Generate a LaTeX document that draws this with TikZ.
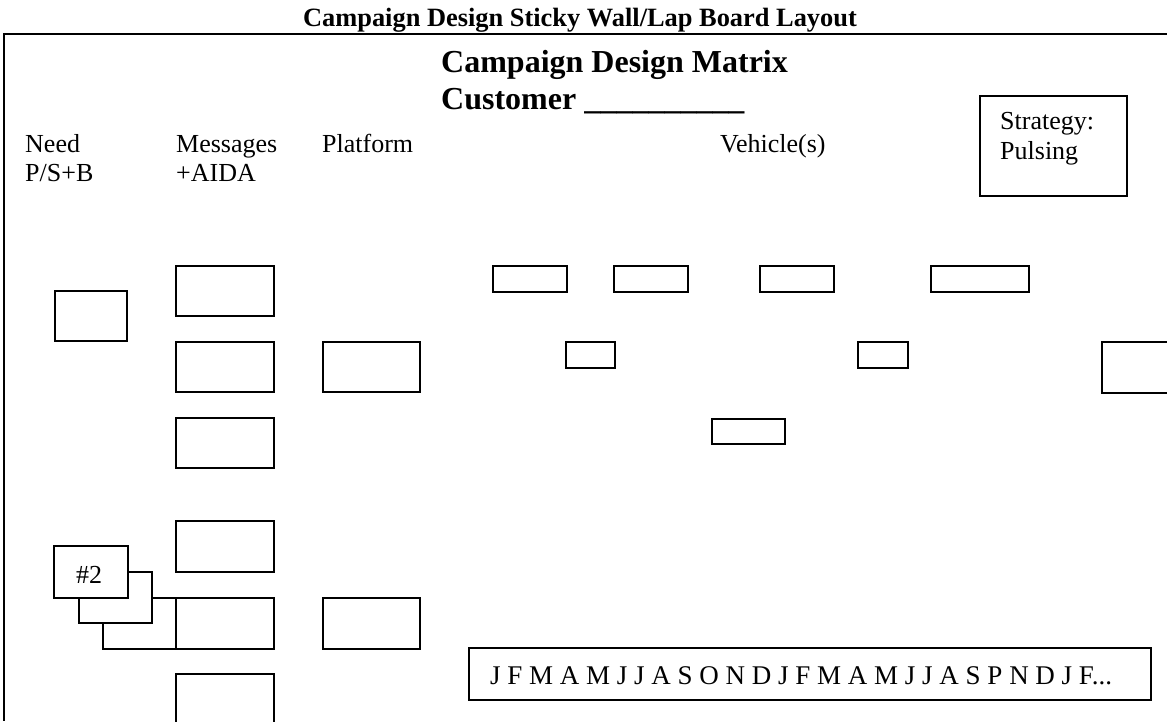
\documentclass[tikz,border=0pt]{standalone}
\usepackage{fontspec}
\setmainfont{Liberation Serif}
\begin{document}
\begin{tikzpicture}[x=1pt,y=-1pt,
  frame/.style={line width=1.8pt},
  box/.style={draw, line width=1.5pt, fill=white, inner sep=0pt, anchor=north west},
  lbl/.style={inner sep=0pt, anchor=base west, font=\fontsize{26}{30}\selectfont},
  ttl/.style={inner sep=0pt, anchor=base, font=\fontsize{26.4}{30}\selectfont\bfseries},
  big/.style={inner sep=0pt, anchor=base west, font=\fontsize{32}{36}\selectfont\bfseries}]
\useasboundingbox (0,0) rectangle (1167,721);
\clip (0,0) rectangle (1167,721);
% frame
\coordinate (tl) at (3,34);
\coordinate (tr) at (1167,34);
\coordinate (bl) at (4,721);
\draw[frame] (tl) -- (tr);
\draw[frame] (4,34) -- (bl);
% titles
\node[ttl] (title) at (580,26) {Campaign Design Sticky Wall/Lap Board Layout};
\node[big] (matrix) at (441,72) {Campaign Design Matrix};
\node[big] (cust) at (441,109) {Customer \_\_\_\_\_\_\_\_\_\_};
% column headings
\node[lbl] (need) at (25,152) {Need};
\node[lbl] (ps) at (25,181) {P/S+B};
\node[lbl] (msg) at (176,152) {Messages};
\node[lbl] (aida) at (176,181) {+AIDA};
\node[lbl] (plat) at (322,152) {Platform};
\node[lbl] (veh) at (720,152) {Vehicle(s)};
% strategy
\node[box, minimum width=147pt, minimum height=100pt] (strat) at (979,95) {};
\node[lbl] (strat1) at (1000,129) {Strategy:};
\node[lbl] (strat2) at (1000,159) {Pulsing};
% need box
\node[box, minimum width=72pt, minimum height=50pt] (n1) at (54,290) {};
% message boxes
\node[box, minimum width=98pt, minimum height=50pt] (m1) at (175,265) {};
\node[box, minimum width=98pt, minimum height=50pt] (m2) at (175,341) {};
\node[box, minimum width=98pt, minimum height=50pt] (m3) at (175,417) {};
\node[box, minimum width=98pt, minimum height=51pt] (m4) at (175,520) {};
\node[box, minimum width=98pt, minimum height=51pt] (m5) at (175,597) {};
\node[box, minimum width=98pt, minimum height=60pt] (m6) at (175,673) {};
% platform boxes
\node[box, minimum width=97pt, minimum height=50pt] (p1) at (322,341) {};
\node[box, minimum width=97pt, minimum height=51pt] (p2) at (322,597) {};
% vehicle boxes
\node[box, minimum width=74pt, minimum height=26pt] (v1) at (492,265) {};
\node[box, minimum width=74pt, minimum height=26pt] (v2) at (613,265) {};
\node[box, minimum width=74pt, minimum height=26pt] (v3) at (759,265) {};
\node[box, minimum width=98pt, minimum height=26pt] (v4) at (930,265) {};
\node[box, minimum width=49pt, minimum height=26pt] (v5) at (565,341) {};
\node[box, minimum width=50pt, minimum height=26pt] (v6) at (857,341) {};
\node[box, minimum width=73pt, minimum height=25pt] (v7) at (711,418) {};
\node[box, minimum width=90pt, minimum height=51pt] (v8) at (1101,341) {};
% #2 stack
\node[box, minimum width=73pt, minimum height=51pt] (s3) at (102,597) {};
\node[box, minimum width=73pt, minimum height=51pt] (s2) at (78,571) {};
\node[box, minimum width=74pt, minimum height=52pt] (s1) at (53,545) {};
\node[lbl, anchor=base] (s1t) at (89,583) {\#2};
% timeline
\node[box, minimum width=682pt, minimum height=52pt] (tline) at (468,647) {};
\node[lbl, font=\fontsize{27}{30}\selectfont] (months) at (490,684) {J F M A M J J A S O N D J F M A M J J A S P N D J F...};
\end{tikzpicture}
\end{document}
